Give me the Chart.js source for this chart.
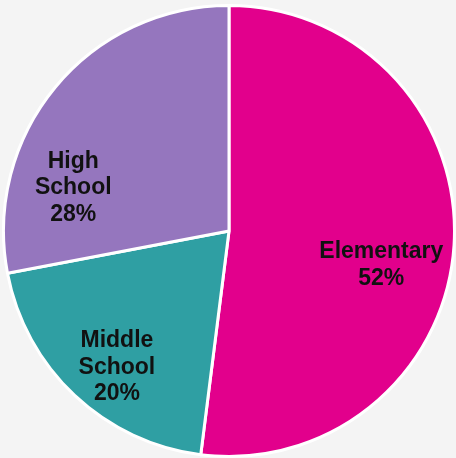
<!DOCTYPE html>
<html>
<head>
<meta charset="utf-8">
<script src="https://cdn.jsdelivr.net/npm/chart.js@4/dist/chart.umd.min.js"></script>
<style>
  html, body { margin: 0; padding: 0; background: #f4f4f4; }
  #wrap { width: 456px; height: 458px; }
</style>
</head>
<body>
<div id="wrap"><canvas id="Chart" width="456" height="458"></canvas></div>
<script>
// school levels, share of total (%)
var levels = ["Elementary", "Middle School", "High School"];
var shares = [52, 20, 28];
var sliceColors = ["#e2008c", "#2f9fa3", "#9576be"];

// where each label sits: angle (deg, clockwise from top) and fraction of radius
var labelAngle = [101.8, 219.9, 286.4];
var labelRadius = [0.69, 0.775, 0.72];

var sliceLabels = {
    id: "sliceLabels",
    afterDatasetsDraw(chart) {
        var ctx = chart.ctx;
        var meta = chart.getDatasetMeta(0);
        ctx.save();
        ctx.fillStyle = "#111";
        ctx.font = "bold 23px 'Liberation Sans', Arial, sans-serif";
        ctx.textAlign = "center";
        ctx.textBaseline = "middle";
        meta.data.forEach(function (arc, i) {
            var a = labelAngle[i] * Math.PI / 180;
            var r = arc.outerRadius * labelRadius[i];
            var x = arc.x + r * Math.sin(a);
            var y = arc.y - r * Math.cos(a) + 2.5;
            var lines = levels[i].split(" ");
            lines.push(shares[i] + "%");
            var lh = 26.5;
            var top = y - (lines.length - 1) * lh / 2;
            lines.forEach(function (t, k) {
                ctx.fillText(t, x, top + k * lh);
            });
        });
        ctx.restore();
    }
};

new Chart("Chart", {
    type: "pie",
    data: {
        labels: levels,
        datasets: [{
            data: shares,
            backgroundColor: sliceColors,
            borderColor: "#ffffff",
            borderWidth: 3
        }]
    },
    options: {
        responsive: false,
        animation: false,
        layout: { padding: { top: 4, bottom: 0, left: 2, right: 0 } },
        plugins: {
            legend: { display: false },
            tooltip: { enabled: false }
        }
    },
    plugins: [sliceLabels]
});
</script>
</body>
</html>
